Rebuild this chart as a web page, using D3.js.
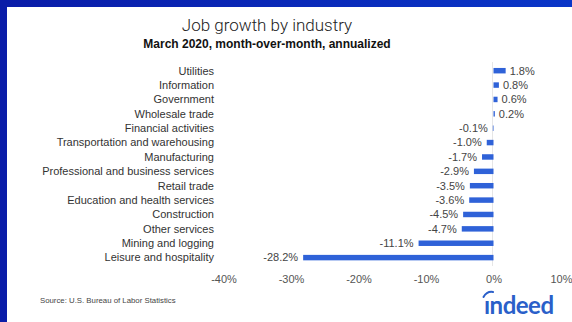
<!DOCTYPE html>
<html>
<head>
<meta charset="utf-8">
<script src="https://cdn.jsdelivr.net/npm/d3@7/dist/d3.min.js"></script>
<style>
  html, body { margin: 0; padding: 0; background: #fff; }
  svg { display: block; font-family: "Liberation Sans", Arial, sans-serif; }
</style>
</head>
<body>
<svg id="chart" width="572" height="322"></svg>
<script>
// Job growth by industry, March 2020 (month-over-month, annualized, %)
const industries = [
  "Utilities", "Information", "Government", "Wholesale trade",
  "Financial activities", "Transportation and warehousing", "Manufacturing",
  "Professional and business services", "Retail trade",
  "Education and health services", "Construction", "Other services",
  "Mining and logging", "Leisure and hospitality"
];
const growth = [1.8, 0.8, 0.6, 0.2, -0.1, -1.0, -1.7, -2.9, -3.5, -3.6, -4.5, -4.7, -11.1, -28.2];
const xTicks = [-40, -30, -20, -10, 0, 10];

const svg = d3.select("#chart");
const W = 572, H = 322;

// frame: blue edge on top and left
const defs = svg.append("defs");
const g1 = defs.append("linearGradient").attr("id", "frame").attr("x1", 0).attr("x2", 1).attr("y1", 0).attr("y2", 0);
g1.append("stop").attr("offset", 0).attr("stop-color", "#0a1ca8");
g1.append("stop").attr("offset", 1).attr("stop-color", "#0a36c8");
svg.append("rect").attr("width", W).attr("height", H).attr("fill", "#fff");
svg.append("rect").attr("x", 0).attr("y", 0).attr("width", W).attr("height", 7).attr("fill", "url(#frame)");
svg.append("rect").attr("x", 0).attr("y", 0).attr("width", 7).attr("height", H).attr("fill", "#0a1ca8");

// titles
svg.append("text").attr("x", 267).attr("y", 31).attr("text-anchor", "middle")
  .style("font-family", "Roboto, 'Liberation Sans', sans-serif").style("font-weight", 300)
  .attr("font-size", 17).attr("fill", "#222").text("Job growth by industry");
svg.append("text").attr("x", 267).attr("y", 48).attr("text-anchor", "middle")
  .attr("font-size", 12).attr("font-weight", "bold").attr("fill", "#111")
  .text("March 2020, month-over-month, annualized");

// scales
const x = d3.scaleLinear().domain([-40, 10]).range([223.5, 561]);
const y = d3.scaleBand().domain(industries).range([63.5, 264.8]).paddingInner(0.62).paddingOuter(0.31);

const data = industries.map((name, i) => ({ name, value: growth[i] }));
const pct = v => d3.format(".1f")(v).replace("\u2212", "-") + "%";

// zero line
svg.append("line").attr("x1", x(0) - 1).attr("x2", x(0) - 1)
  .attr("y1", 62).attr("y2", 266).attr("stroke", "#e6e6e6").attr("stroke-width", 1);

// bars
svg.append("g").selectAll("rect").data(data).join("rect")
  .attr("x", d => x(Math.min(0, d.value)))
  .attr("width", d => Math.abs(x(d.value) - x(0)))
  .attr("y", d => y(d.name))
  .attr("height", y.bandwidth())
  .attr("fill", "#2f62d8");

// category labels
svg.append("g").selectAll("text").data(data).join("text")
  .attr("x", 214)
  .attr("y", d => y(d.name) + y.bandwidth() / 2)
  .attr("dy", "0.35em")
  .attr("text-anchor", "end")
  .attr("font-size", 11)
  .attr("fill", "#333")
  .text(d => d.name);

// value labels
svg.append("g").selectAll("text").data(data).join("text")
  .attr("x", d => d.value >= 0 ? x(d.value) + 4 : x(d.value) - 5)
  .attr("y", d => y(d.name) + y.bandwidth() / 2)
  .attr("dy", "0.35em")
  .attr("text-anchor", d => d.value >= 0 ? "start" : "end")
  .attr("font-size", 11)
  .attr("fill", "#444")
  .text(d => pct(d.value));

// x axis
const axis = svg.append("g").attr("transform", "translate(0,268)")
  .call(d3.axisBottom(x).tickValues(xTicks).tickSize(0).tickPadding(7).tickFormat(d => d + "%"));
axis.select(".domain").remove();
axis.selectAll("text").attr("font-size", 11).attr("fill", "#555")
  .style("font-family", "'Liberation Sans', Arial, sans-serif");

// source note
svg.append("text").attr("x", 40).attr("y", 303).attr("font-size", 7.8).attr("fill", "#444")
  .text("Source: U.S. Bureau of Labor Statistics");

// indeed wordmark
const logo = svg.append("g").attr("transform", "translate(484,314)");
logo.append("text").attr("x", 0).attr("y", 0).attr("font-size", 24)
  .style("font-family", "Lato, 'Liberation Sans', sans-serif").attr("font-weight", "bold")
  .attr("fill", "#2a5fc9").attr("letter-spacing", -0.5).text("ındeed");
logo.append("path").attr("d", "M-0.5,-17 Q3,-23 9,-22")
  .attr("fill", "none").attr("stroke", "#2a5fc9").attr("stroke-width", 2).attr("stroke-linecap", "round");
</script>
</body>
</html>
